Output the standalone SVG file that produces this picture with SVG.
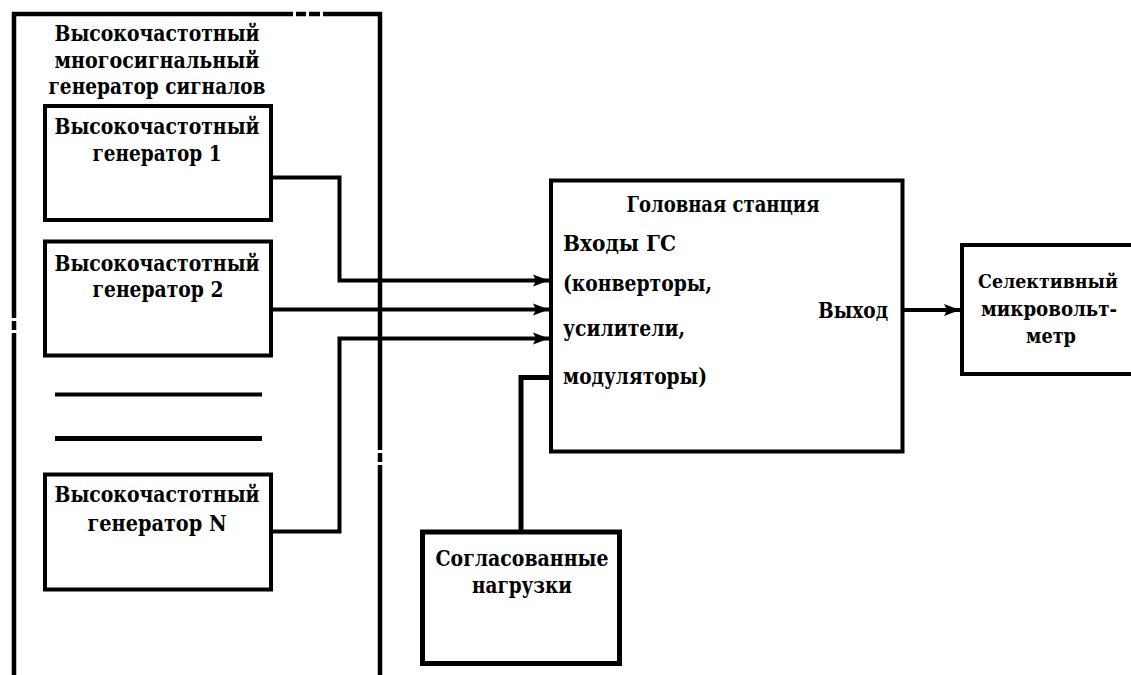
<svg xmlns="http://www.w3.org/2000/svg" width="1131" height="675" viewBox="0 0 1131 675">
<style>
text{font-family:"DejaVu Serif","Liberation Serif",serif;font-weight:700;font-size:23px;fill:#000}
.c{text-anchor:middle}
.s{font-size:20px}
.x{font-size:18px}
.b{fill:none;stroke:#000}
.w{fill:#fff}
</style>
<defs>
<marker id="ah" markerUnits="userSpaceOnUse" markerWidth="20" markerHeight="16" refX="16" refY="7" orient="auto">
<path d="M0,1 L16,7 L0,13 L3,7 Z" fill="#000"/>
</marker>
</defs>
<rect width="1131" height="675" fill="#fff"/>
<g id="outer">
<path class="b" d="M14,690 V14 H380 V690" stroke-width="4.5"/>
<rect class="w" x="293" y="10" width="3" height="8"/>
<rect class="w" x="306" y="10" width="3" height="8"/>
<rect class="w" x="320" y="10" width="3" height="8"/>
<rect class="w" x="9" y="318" width="10" height="3"/>
<rect class="w" x="9" y="330" width="10" height="3"/>
<rect class="w" x="375" y="450" width="10" height="3"/>
<rect class="w" x="375" y="462" width="10" height="3"/>
<text class="c" x="157" y="41" textLength="205" lengthAdjust="spacingAndGlyphs">Высокочастотный</text>
<text class="c" x="157" y="68" textLength="205" lengthAdjust="spacingAndGlyphs">многосигнальный</text>
<text class="c" x="157" y="94" textLength="217" lengthAdjust="spacingAndGlyphs">генератор сигналов</text>
</g>
<g id="gen1">
<rect class="b" x="45" y="106" width="226" height="114" stroke-width="4"/>
<text class="c" x="157" y="134" textLength="205" lengthAdjust="spacingAndGlyphs">Высокочастотный</text>
<text class="c" x="157" y="161" textLength="129" lengthAdjust="spacingAndGlyphs">генератор 1</text>
</g>
<g id="gen2">
<rect class="b" x="45" y="241.5" width="226" height="114" stroke-width="4"/>
<text class="c" x="157" y="271" textLength="205" lengthAdjust="spacingAndGlyphs">Высокочастотный</text>
<text class="c" x="158" y="297" textLength="131" lengthAdjust="spacingAndGlyphs">генератор 2</text>
</g>
<g id="dots">
<line class="b" x1="55" y1="394.5" x2="262" y2="394.5" stroke-width="4"/>
<line class="b" x1="55" y1="438.5" x2="262" y2="438.5" stroke-width="5"/>
</g>
<g id="genN">
<rect class="b" x="45" y="474.5" width="226" height="115" stroke-width="4"/>
<text class="c" x="157" y="502" textLength="205" lengthAdjust="spacingAndGlyphs">Высокочастотный</text>
<text class="c" x="157" y="531" textLength="139" lengthAdjust="spacingAndGlyphs">генератор N</text>
</g>
<g id="head">
<rect class="b" x="551" y="180.5" width="351.5" height="271" stroke-width="4"/>
<text class="c" x="723" y="212" textLength="193" lengthAdjust="spacingAndGlyphs">Головная станция</text>
<text x="563" y="251" textLength="113" lengthAdjust="spacingAndGlyphs">Входы ГС</text>
<text x="563" y="291" textLength="149" lengthAdjust="spacingAndGlyphs">(конверторы,</text>
<text x="563" y="336" textLength="122" lengthAdjust="spacingAndGlyphs">усилители,</text>
<text x="563" y="384" textLength="144" lengthAdjust="spacingAndGlyphs">модуляторы)</text>
<text x="818" y="318" textLength="70" lengthAdjust="spacingAndGlyphs">Выход</text>
</g>
<g id="meter">
<rect class="b" x="962" y="245" width="200" height="129" stroke-width="4"/>
<text class="c x" x="1048" y="288" textLength="140" lengthAdjust="spacingAndGlyphs">Селективный</text>
<text class="c s" x="1049" y="316" textLength="136" lengthAdjust="spacingAndGlyphs">микровольт-</text>
<text class="c s" x="1051" y="343" textLength="50" lengthAdjust="spacingAndGlyphs">метр</text>
</g>
<g id="loads">
<rect class="b" x="422.5" y="532" width="197" height="131.5" stroke-width="5"/>
<text class="c" x="522" y="566" textLength="173" lengthAdjust="spacingAndGlyphs">Согласованные</text>
<text class="c" x="522" y="593" textLength="100" lengthAdjust="spacingAndGlyphs">нагрузки</text>
</g>
<g id="connectors">
<path class="b" d="M271,177.5 H339.5 V280.5 H549" stroke-width="4" marker-end="url(#ah)"/>
<path class="b" d="M271,309.5 H549" stroke-width="4" marker-end="url(#ah)"/>
<path class="b" d="M271,531.5 H339.5 V338.5 H549" stroke-width="4" marker-end="url(#ah)"/>
<path class="b" d="M903,310 H960" stroke-width="4" marker-end="url(#ah)"/>
<path class="b" d="M551,377.5 H521 V532" stroke-width="5"/>
</g>
</svg>
